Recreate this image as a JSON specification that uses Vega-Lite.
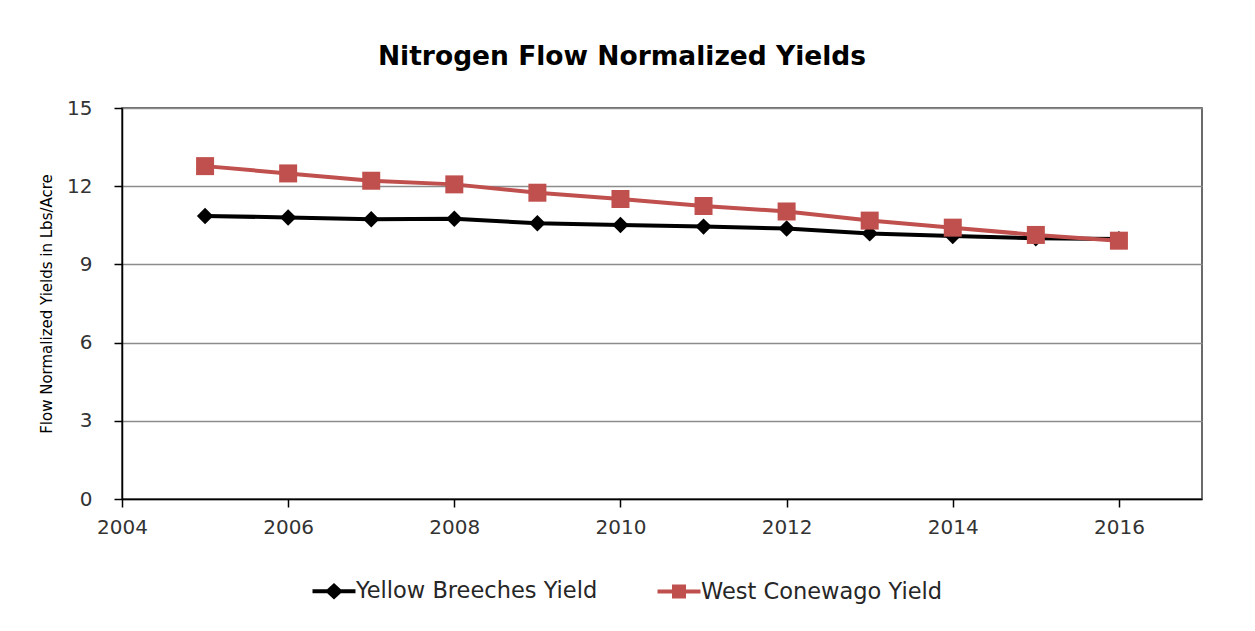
{
  "$schema": "https://vega.github.io/schema/vega-lite/v6.json",
  "autosize": "none",
  "width": 1080,
  "height": 391,
  "padding": {"left": 122, "top": 108, "right": 53, "bottom": 132},
  "background": "white",
  "title": {
    "text": "Nitrogen Flow Normalized Yields",
    "font": "DejaVu Sans",
    "fontSize": 26.5,
    "fontWeight": "bold",
    "color": "#000000",
    "anchor": "middle",
    "dx": -40,
    "offset": 28
  },
  "config": {
    "view": {"stroke": "#3a3a3a", "strokeWidth": 1.5},
    "font": "DejaVu Sans"
  },
  "data": {
    "values": [
      {"year": 2005, "series": "Yellow Breeches Yield", "value": 10.86},
      {"year": 2006, "series": "Yellow Breeches Yield", "value": 10.8},
      {"year": 2007, "series": "Yellow Breeches Yield", "value": 10.73},
      {"year": 2008, "series": "Yellow Breeches Yield", "value": 10.75},
      {"year": 2009, "series": "Yellow Breeches Yield", "value": 10.58},
      {"year": 2010, "series": "Yellow Breeches Yield", "value": 10.51},
      {"year": 2011, "series": "Yellow Breeches Yield", "value": 10.45},
      {"year": 2012, "series": "Yellow Breeches Yield", "value": 10.38},
      {"year": 2013, "series": "Yellow Breeches Yield", "value": 10.19},
      {"year": 2014, "series": "Yellow Breeches Yield", "value": 10.09},
      {"year": 2015, "series": "Yellow Breeches Yield", "value": 10.0},
      {"year": 2016, "series": "Yellow Breeches Yield", "value": 9.97},
      {"year": 2005, "series": "West Conewago Yield", "value": 12.77},
      {"year": 2006, "series": "West Conewago Yield", "value": 12.49},
      {"year": 2007, "series": "West Conewago Yield", "value": 12.21},
      {"year": 2008, "series": "West Conewago Yield", "value": 12.07},
      {"year": 2009, "series": "West Conewago Yield", "value": 11.75},
      {"year": 2010, "series": "West Conewago Yield", "value": 11.51},
      {"year": 2011, "series": "West Conewago Yield", "value": 11.24},
      {"year": 2012, "series": "West Conewago Yield", "value": 11.03},
      {"year": 2013, "series": "West Conewago Yield", "value": 10.68},
      {"year": 2014, "series": "West Conewago Yield", "value": 10.41},
      {"year": 2015, "series": "West Conewago Yield", "value": 10.13},
      {"year": 2016, "series": "West Conewago Yield", "value": 9.91}
    ]
  },
  "encoding": {
    "x": {
      "field": "year",
      "type": "quantitative",
      "scale": {"domain": [2004, 2017], "nice": false, "zero": false},
      "axis": {
        "title": null,
        "values": [2004, 2006, 2008, 2010, 2012, 2014, 2016],
        "format": "d",
        "grid": false,
        "domainColor": "#000000",
        "domainWidth": 1.5,
        "tickColor": "#000000",
        "tickWidth": 1.5,
        "tickSize": 8,
        "labelFontSize": 20,
        "labelColor": "#333333",
        "labelPadding": 10,
        "labelFlush": false
      }
    },
    "y": {
      "field": "value",
      "type": "quantitative",
      "scale": {"domain": [0, 15], "nice": false},
      "axis": {
        "title": "Flow Normalized Yields  in Lbs/Acre",
        "titleFontSize": 15,
        "titleFontWeight": "normal",
        "titleColor": "#000000",
        "titlePadding": 12,
        "values": [0, 3, 6, 9, 12, 15],
        "grid": true,
        "gridColor": "#8c8c8c",
        "gridWidth": 1.3,
        "domainColor": "#000000",
        "domainWidth": 1.5,
        "tickColor": "#000000",
        "tickWidth": 1.5,
        "tickSize": 8,
        "labelFontSize": 20,
        "labelColor": "#333333",
        "labelPadding": 22,
        "labelFlush": false
      }
    }
  },
  "layer": [
    {
      "mark": {"type": "line", "strokeWidth": 4},
      "encoding": {
        "color": {
          "field": "series",
          "type": "nominal",
          "sort": null,
          "scale": {
            "domain": ["Yellow Breeches Yield", "West Conewago Yield"],
            "range": ["#000000", "#C0504D"]
          },
          "legend": {
            "title": null,
            "orient": "none",
            "direction": "horizontal",
            "legendX": 200,
            "legendY": 471,
            "symbolType": "M-2.15,0L2.15,0M-0.6,0L0,-0.55L0.6,0L0,0.55Z",
            "symbolSize": 400,
            "symbolStrokeWidth": 4,
            "labelOffset": 10,
            "labelFontSize": 22.5,
            "labelLimit": 500,
            "labelColor": "#262626",
            "columnPadding": 51,
            "padding": 0,
            "encode": {
              "symbols": {
                "update": {
                  "shape": {"signal": "datum.value === 'Yellow Breeches Yield' ? 'M-2.15,0L2.15,0M-0.6,0L0,-0.55L0.6,0L0,0.55Z' : 'M-2.15,0L2.15,0M-0.5,-0.5L0.5,-0.5L0.5,0.5L-0.5,0.5Z'"},
                  "fill": {"signal": "datum.value === 'Yellow Breeches Yield' ? '#000000' : '#C0504D'"},
                  "stroke": {"signal": "datum.value === 'Yellow Breeches Yield' ? '#000000' : '#C0504D'"},
                  "strokeWidth": {"value": 4},
                  "opacity": {"value": 1}
                }
              }
            }
          }
        }
      }
    },
    {
      "transform": [{"filter": "datum.series === 'Yellow Breeches Yield'"}],
      "mark": {"type": "point", "shape": "diamond", "size": 270, "filled": true, "color": "#000000", "opacity": 1, "strokeWidth": 0}
    },
    {
      "transform": [{"filter": "datum.series === 'West Conewago Yield'"}],
      "mark": {"type": "point", "shape": "square", "size": 324, "filled": true, "color": "#C0504D", "opacity": 1, "strokeWidth": 0}
    }
  ]
}
